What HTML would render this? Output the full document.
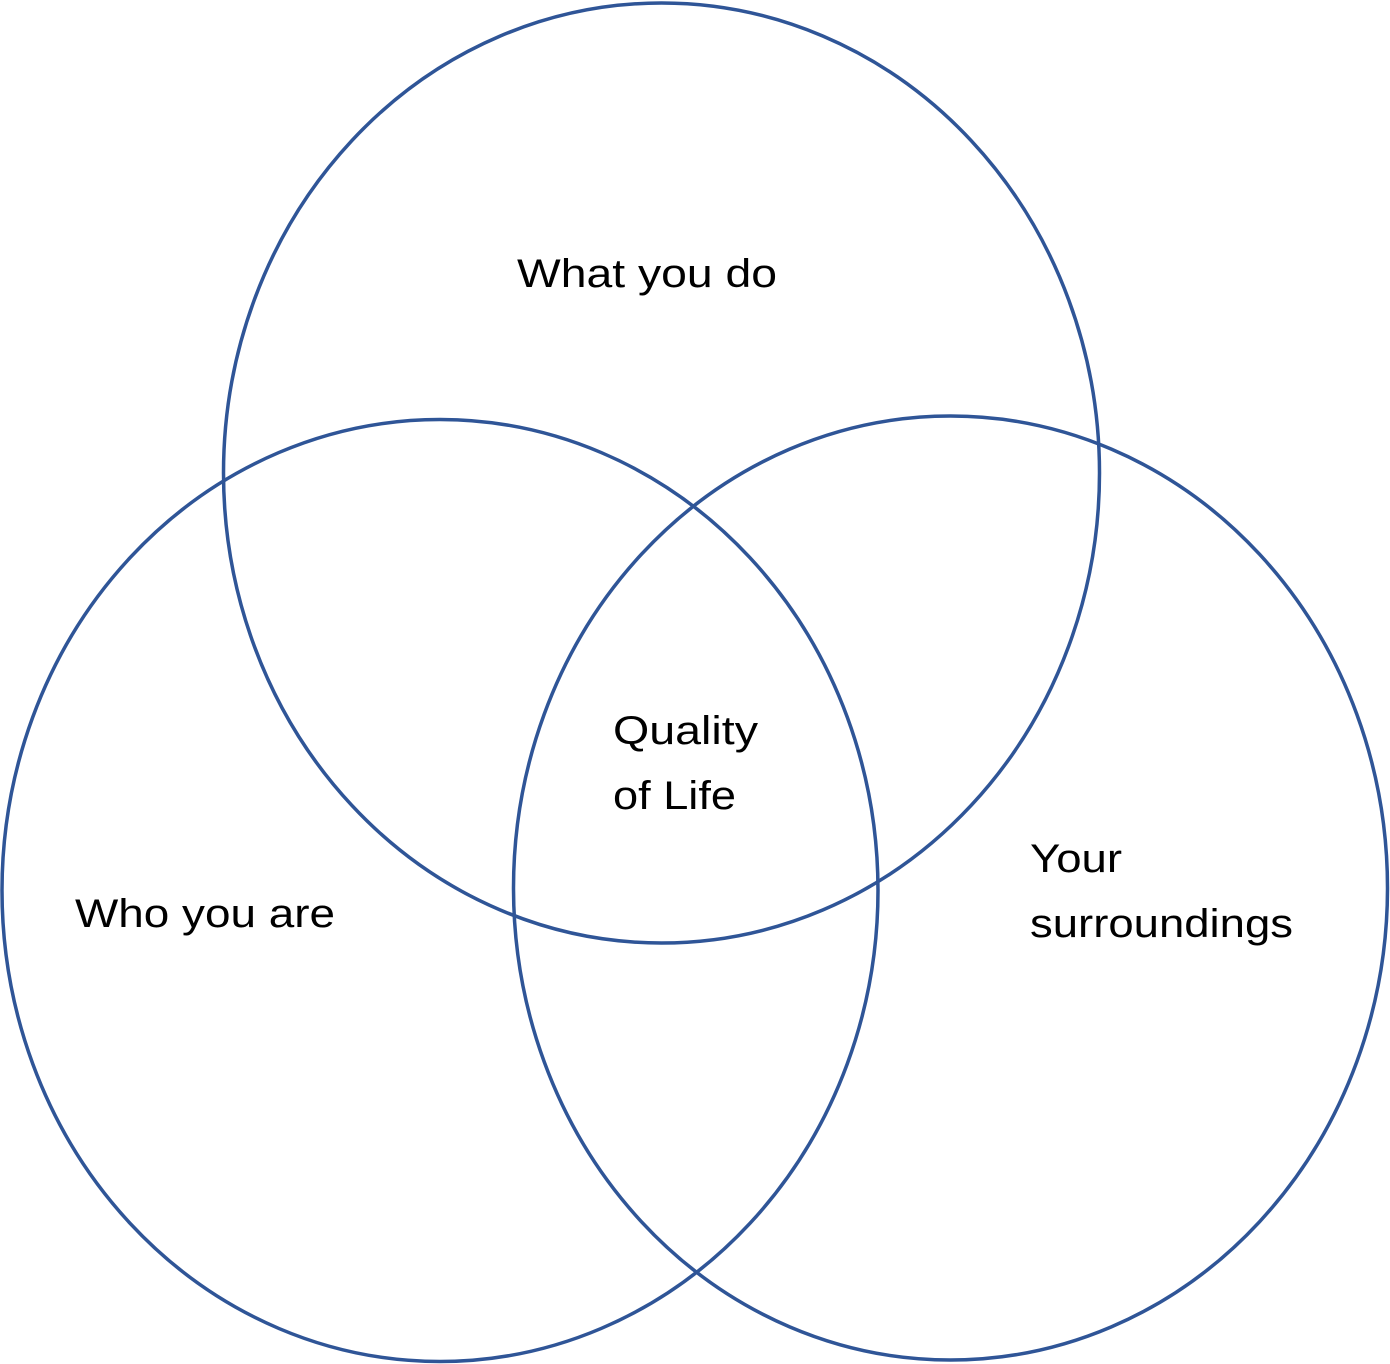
<!DOCTYPE html>
<html><head><meta charset="utf-8"><style>html,body{margin:0;padding:0;background:#fff}svg{display:block}</style></head>
<body>
<svg width="1390" height="1364" viewBox="0 0 1390 1364" xmlns="http://www.w3.org/2000/svg">
<g fill="none" stroke="#2f5597" stroke-width="3.5">
<ellipse cx="661.5" cy="473" rx="438" ry="470"/>
<ellipse cx="440" cy="890.5" rx="438" ry="471"/>
<ellipse cx="950.5" cy="888" rx="437" ry="472"/>
</g>
<g font-family="Liberation Sans, sans-serif" font-size="40" fill="#000">
<text x="517" y="287" textLength="260" lengthAdjust="spacingAndGlyphs">What you do</text>
<text x="613" y="744" textLength="145" lengthAdjust="spacingAndGlyphs">Quality</text>
<text x="613" y="809" textLength="123" lengthAdjust="spacingAndGlyphs">of Life</text>
<text x="75" y="927" textLength="260" lengthAdjust="spacingAndGlyphs">Who you are</text>
<text x="1030" y="872" textLength="92" lengthAdjust="spacingAndGlyphs">Your</text>
<text x="1030" y="937" textLength="263" lengthAdjust="spacingAndGlyphs">surroundings</text>
</g>
</svg>
</body></html>
